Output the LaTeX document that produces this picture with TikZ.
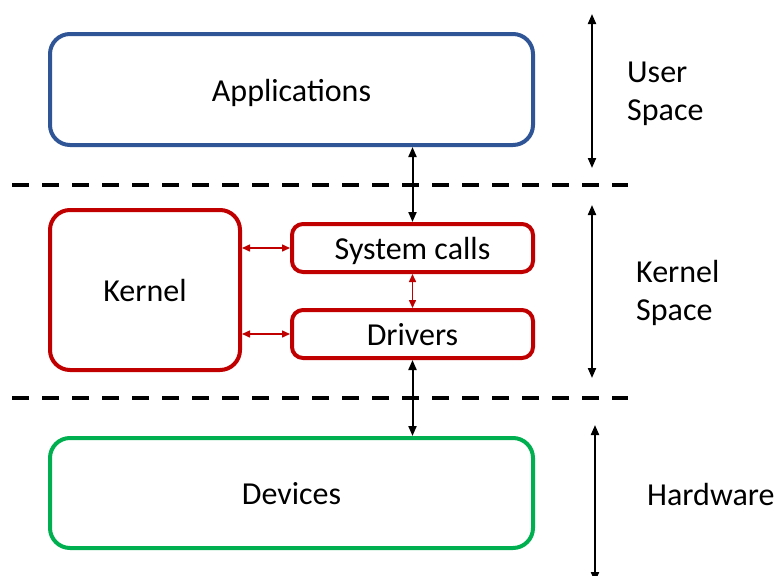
\documentclass[tikz,border=0pt]{standalone}
\usepackage{fontspec}
\setmainfont{Carlito}
\usetikzlibrary{arrows.meta}
\definecolor{appblue}{HTML}{2F5597}
\definecolor{kred}{HTML}{C00000}
\definecolor{hwgreen}{HTML}{00B050}
\tikzset{
  boxtext/.style={font=\fontsize{32}{38}\selectfont, text height=23pt, text depth=0pt},
  layerbox/.style={draw, line width=4pt, rounded corners=20pt, inner sep=0pt, boxtext},
  smallbox/.style={draw=kred, line width=4pt, rounded corners=11pt, inner sep=0pt,
    minimum width=241pt, minimum height=48pt, boxtext},
  biarrow/.style={line width=2pt, {Triangle[length=10pt,width=8pt]}-{Triangle[length=10pt,width=8pt]}},
  redarrow/.style={kred, line width=1.5pt, {Triangle[length=8pt,width=7pt]}-{Triangle[length=8pt,width=7pt]}},
  divider/.style={line width=4pt, dash pattern=on 17pt off 13pt},
  sidelabel/.style={anchor=west, align=left, inner sep=0pt, font=\fontsize{32}{38}\selectfont}
}
\begin{document}
\begin{tikzpicture}[x=1pt, y=-1pt]
  \useasboundingbox (0,0) rectangle (777,576);

  % layer boxes
  \node[layerbox, draw=appblue, minimum width=483pt, minimum height=111pt] (apps) at (291.5,89.5) {Applications};
  \node[layerbox, draw=kred, minimum width=190pt, minimum height=160pt] (kernel) at (145,290) {Kernel};
  \node[smallbox] (sys) at (412.5,248) {System calls};
  \node[smallbox] (drv) at (412.5,334) {Drivers};
  \node[layerbox, draw=hwgreen, minimum width=483pt, minimum height=110pt] (dev) at (291.5,493) {Devices};

  % dashed boundaries between spaces
  \coordinate (d1a) at (12,185);
  \coordinate (d1b) at (628,185);
  \coordinate (d2a) at (12,398);
  \coordinate (d2b) at (628,398);
  \draw[divider] (d1a) -- (d1b);
  \draw[divider] (d2a) -- (d2b);

  % connectors
  \draw[biarrow] (sys.north) -- (sys.north |- apps.south);
  \draw[biarrow] (drv.south) -- (drv.south |- dev.north);
  \draw[redarrow] (sys.south) -- (drv.north);
  \draw[redarrow] (kernel.east |- sys.west) -- (sys.west);
  \draw[redarrow] (kernel.east |- drv.west) -- (drv.west);

  % extent arrows on the right
  \coordinate (u1) at (592,14);
  \coordinate (u2) at (592,168);
  \coordinate (k1) at (592,205);
  \coordinate (k2) at (592,378);
  \coordinate (h1) at (595,425);
  \coordinate (h2) at (595,582);
  \draw[biarrow] (u1) -- (u2);
  \draw[biarrow] (k1) -- (k2);
  \draw[biarrow] (h1) -- (h2);

  % side labels
  \node[sidelabel] (lu) at (627,94) {User\\Space};
  \node[sidelabel] (lk) at (636,292.5) {Kernel\\Space};
  \node[sidelabel] (lh) at (647,495) {Hardware};
\end{tikzpicture}
\end{document}
